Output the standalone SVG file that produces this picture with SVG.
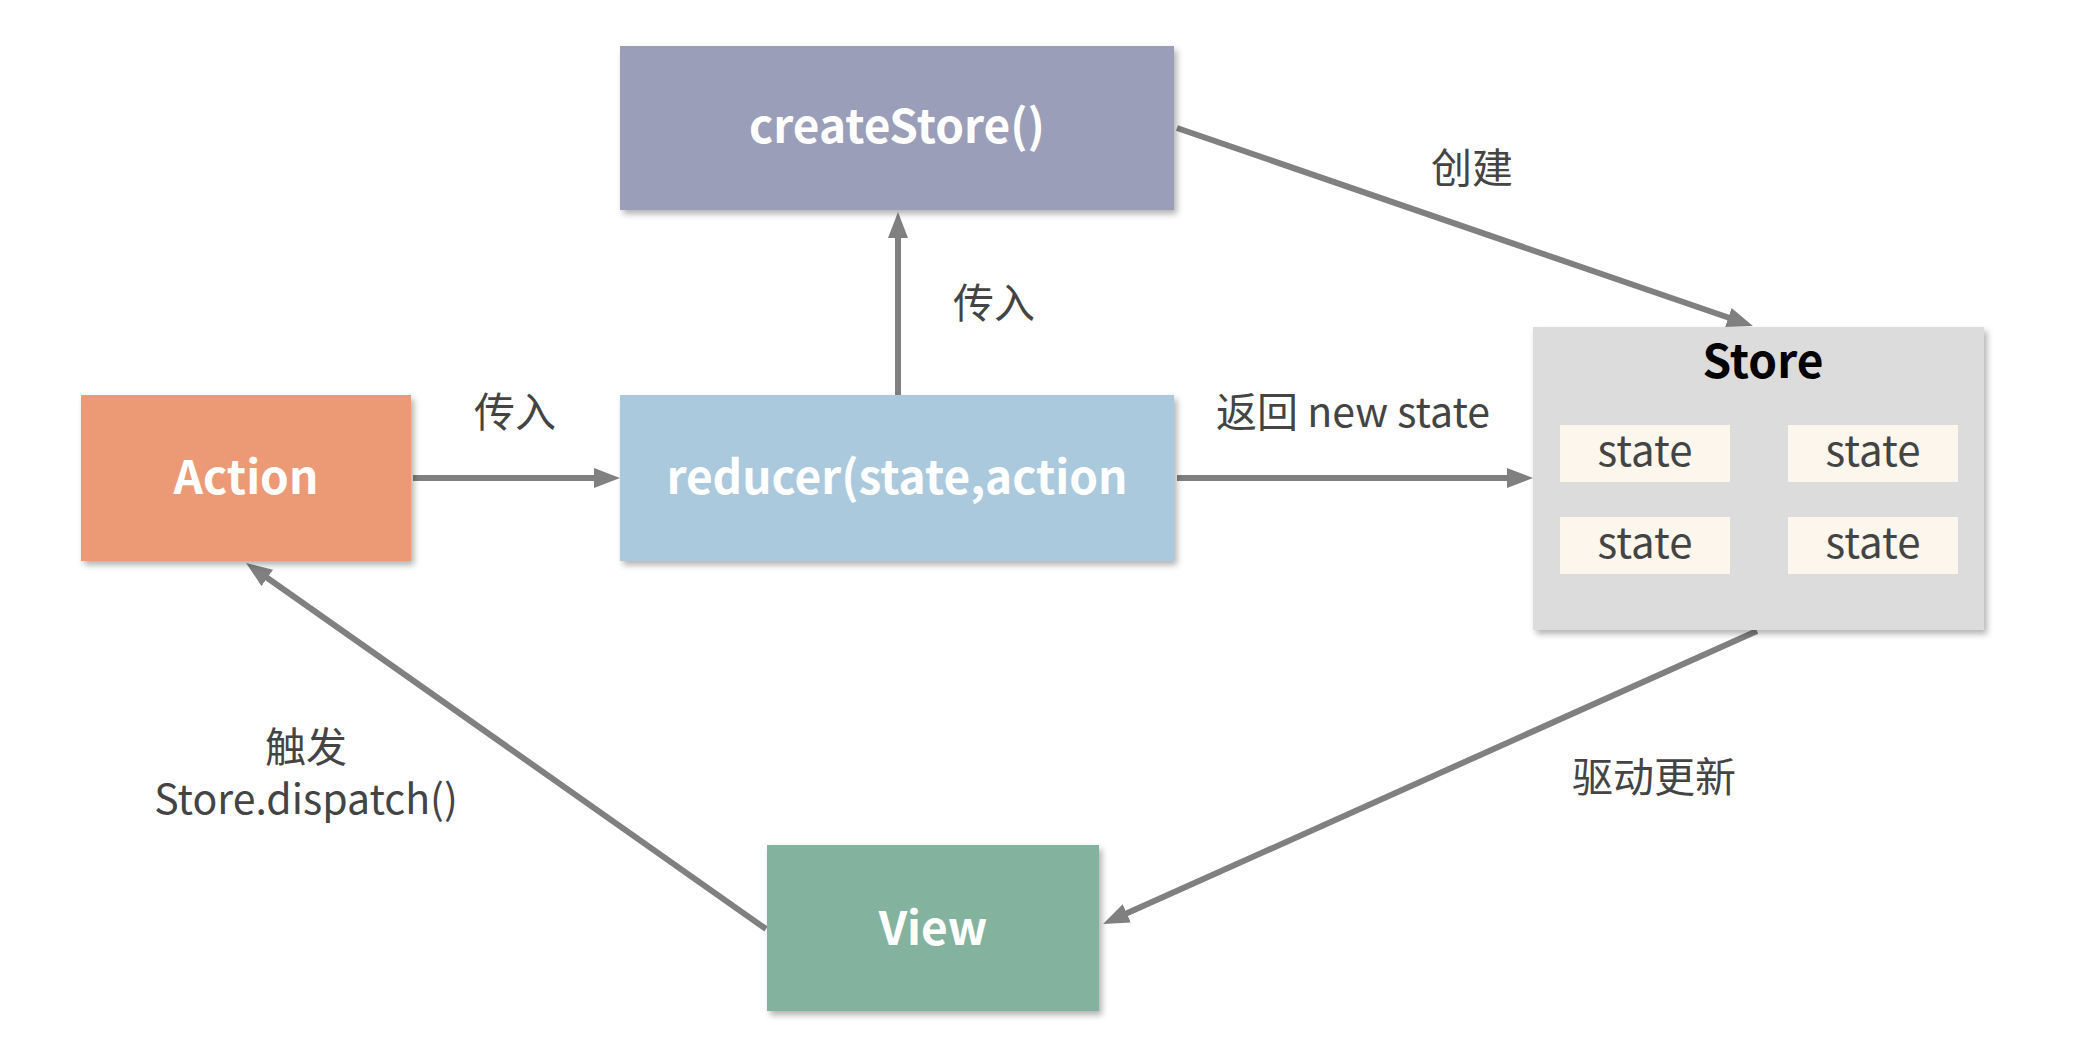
<svg xmlns="http://www.w3.org/2000/svg" width="2078" height="1040" viewBox="0 0 2078 1040">
  <style>
    .box-title { font-family: "Noto Sans CJK SC", "Noto Sans", sans-serif; font-weight: bold; font-size: 46px; fill: #FFFFFF; text-anchor: middle; }
    .label { font-family: "Noto Sans CJK SC", "Noto Sans", sans-serif; font-size: 41px; fill: #444444; text-anchor: middle; }
    .state-text { font-family: "Noto Sans CJK SC", "Noto Sans", sans-serif; font-size: 42px; fill: #444444; text-anchor: middle; }
    .conn { stroke: #808080; stroke-width: 6; fill: none; marker-end: url(#arrow); }
  </style>
  <defs>
    <filter id="shadow" x="-10%" y="-10%" width="125%" height="130%">
      <feDropShadow dx="3" dy="4" stdDeviation="3" flood-color="#000000" flood-opacity="0.3"/>
    </filter>
    <marker id="arrow" viewBox="0 0 26 20" markerWidth="26" markerHeight="20" refX="6" refY="10" orient="auto" markerUnits="userSpaceOnUse">
      <path d="M0,0 L26,10 L0,20 z" fill="#808080"/>
    </marker>
  </defs>
  <rect width="2078" height="1040" fill="#FFFFFF"/>

  <g id="connectors">
    <line class="conn" x1="413" y1="478" x2="600" y2="478"/>
    <line class="conn" x1="898" y1="395" x2="898" y2="232"/>
    <line class="conn" x1="1177" y1="128" x2="1734" y2="319.5"/>
    <line class="conn" x1="1177" y1="478" x2="1513" y2="478"/>
    <line class="conn" x1="1757" y1="631" x2="1121.3" y2="915.8"/>
    <line class="conn" x1="766" y1="929" x2="262.4" y2="574.5"/>
  </g>

  <g id="createStore">
    <rect x="620" y="46" width="554" height="164" fill="#9A9EB8" filter="url(#shadow)"/>
    <text class="box-title" x="897" y="143">createStore()</text>
  </g>

  <g id="action">
    <rect x="81" y="395" width="330" height="166" fill="#EC9A74" filter="url(#shadow)"/>
    <text class="box-title" x="246" y="494">Action</text>
  </g>

  <g id="reducer">
    <rect x="620" y="395" width="554" height="166" fill="#ABC9DD" filter="url(#shadow)"/>
    <text class="box-title" x="897" y="494">reducer(state,action</text>
  </g>

  <g id="store">
    <rect x="1533" y="327" width="451" height="303" fill="#DCDCDC" filter="url(#shadow)"/>
    <text x="1763" y="378" font-family="'Noto Sans CJK SC', 'Noto Sans', sans-serif" font-weight="bold" font-size="46" fill="#000000" text-anchor="middle">Store</text>
    <g id="state-1">
      <rect x="1560" y="425" width="170" height="57" fill="#FCF6EC"/>
      <text class="state-text" x="1645" y="466">state</text>
    </g>
    <g id="state-2">
      <rect x="1788" y="425" width="170" height="57" fill="#FCF6EC"/>
      <text class="state-text" x="1873" y="466">state</text>
    </g>
    <g id="state-3">
      <rect x="1560" y="517" width="170" height="57" fill="#FCF6EC"/>
      <text class="state-text" x="1645" y="558">state</text>
    </g>
    <g id="state-4">
      <rect x="1788" y="517" width="170" height="57" fill="#FCF6EC"/>
      <text class="state-text" x="1873" y="558">state</text>
    </g>
  </g>

  <g id="view">
    <rect x="767" y="845" width="332" height="166" fill="#83B29E" filter="url(#shadow)"/>
    <text class="box-title" x="933" y="945">View</text>
  </g>

  <g id="labels">
    <text class="label" x="994" y="318">传入</text>
    <text class="label" x="515" y="427">传入</text>
    <text class="label" x="1472" y="183">创建</text>
    <text class="label" x="1353" y="427">返回 new state</text>
    <text class="label" x="1654" y="792">驱动更新</text>
    <text class="label" x="306" y="762">触发</text>
    <text class="label" x="306" y="814" font-size="42.5">Store.dispatch()</text>
  </g>
</svg>
